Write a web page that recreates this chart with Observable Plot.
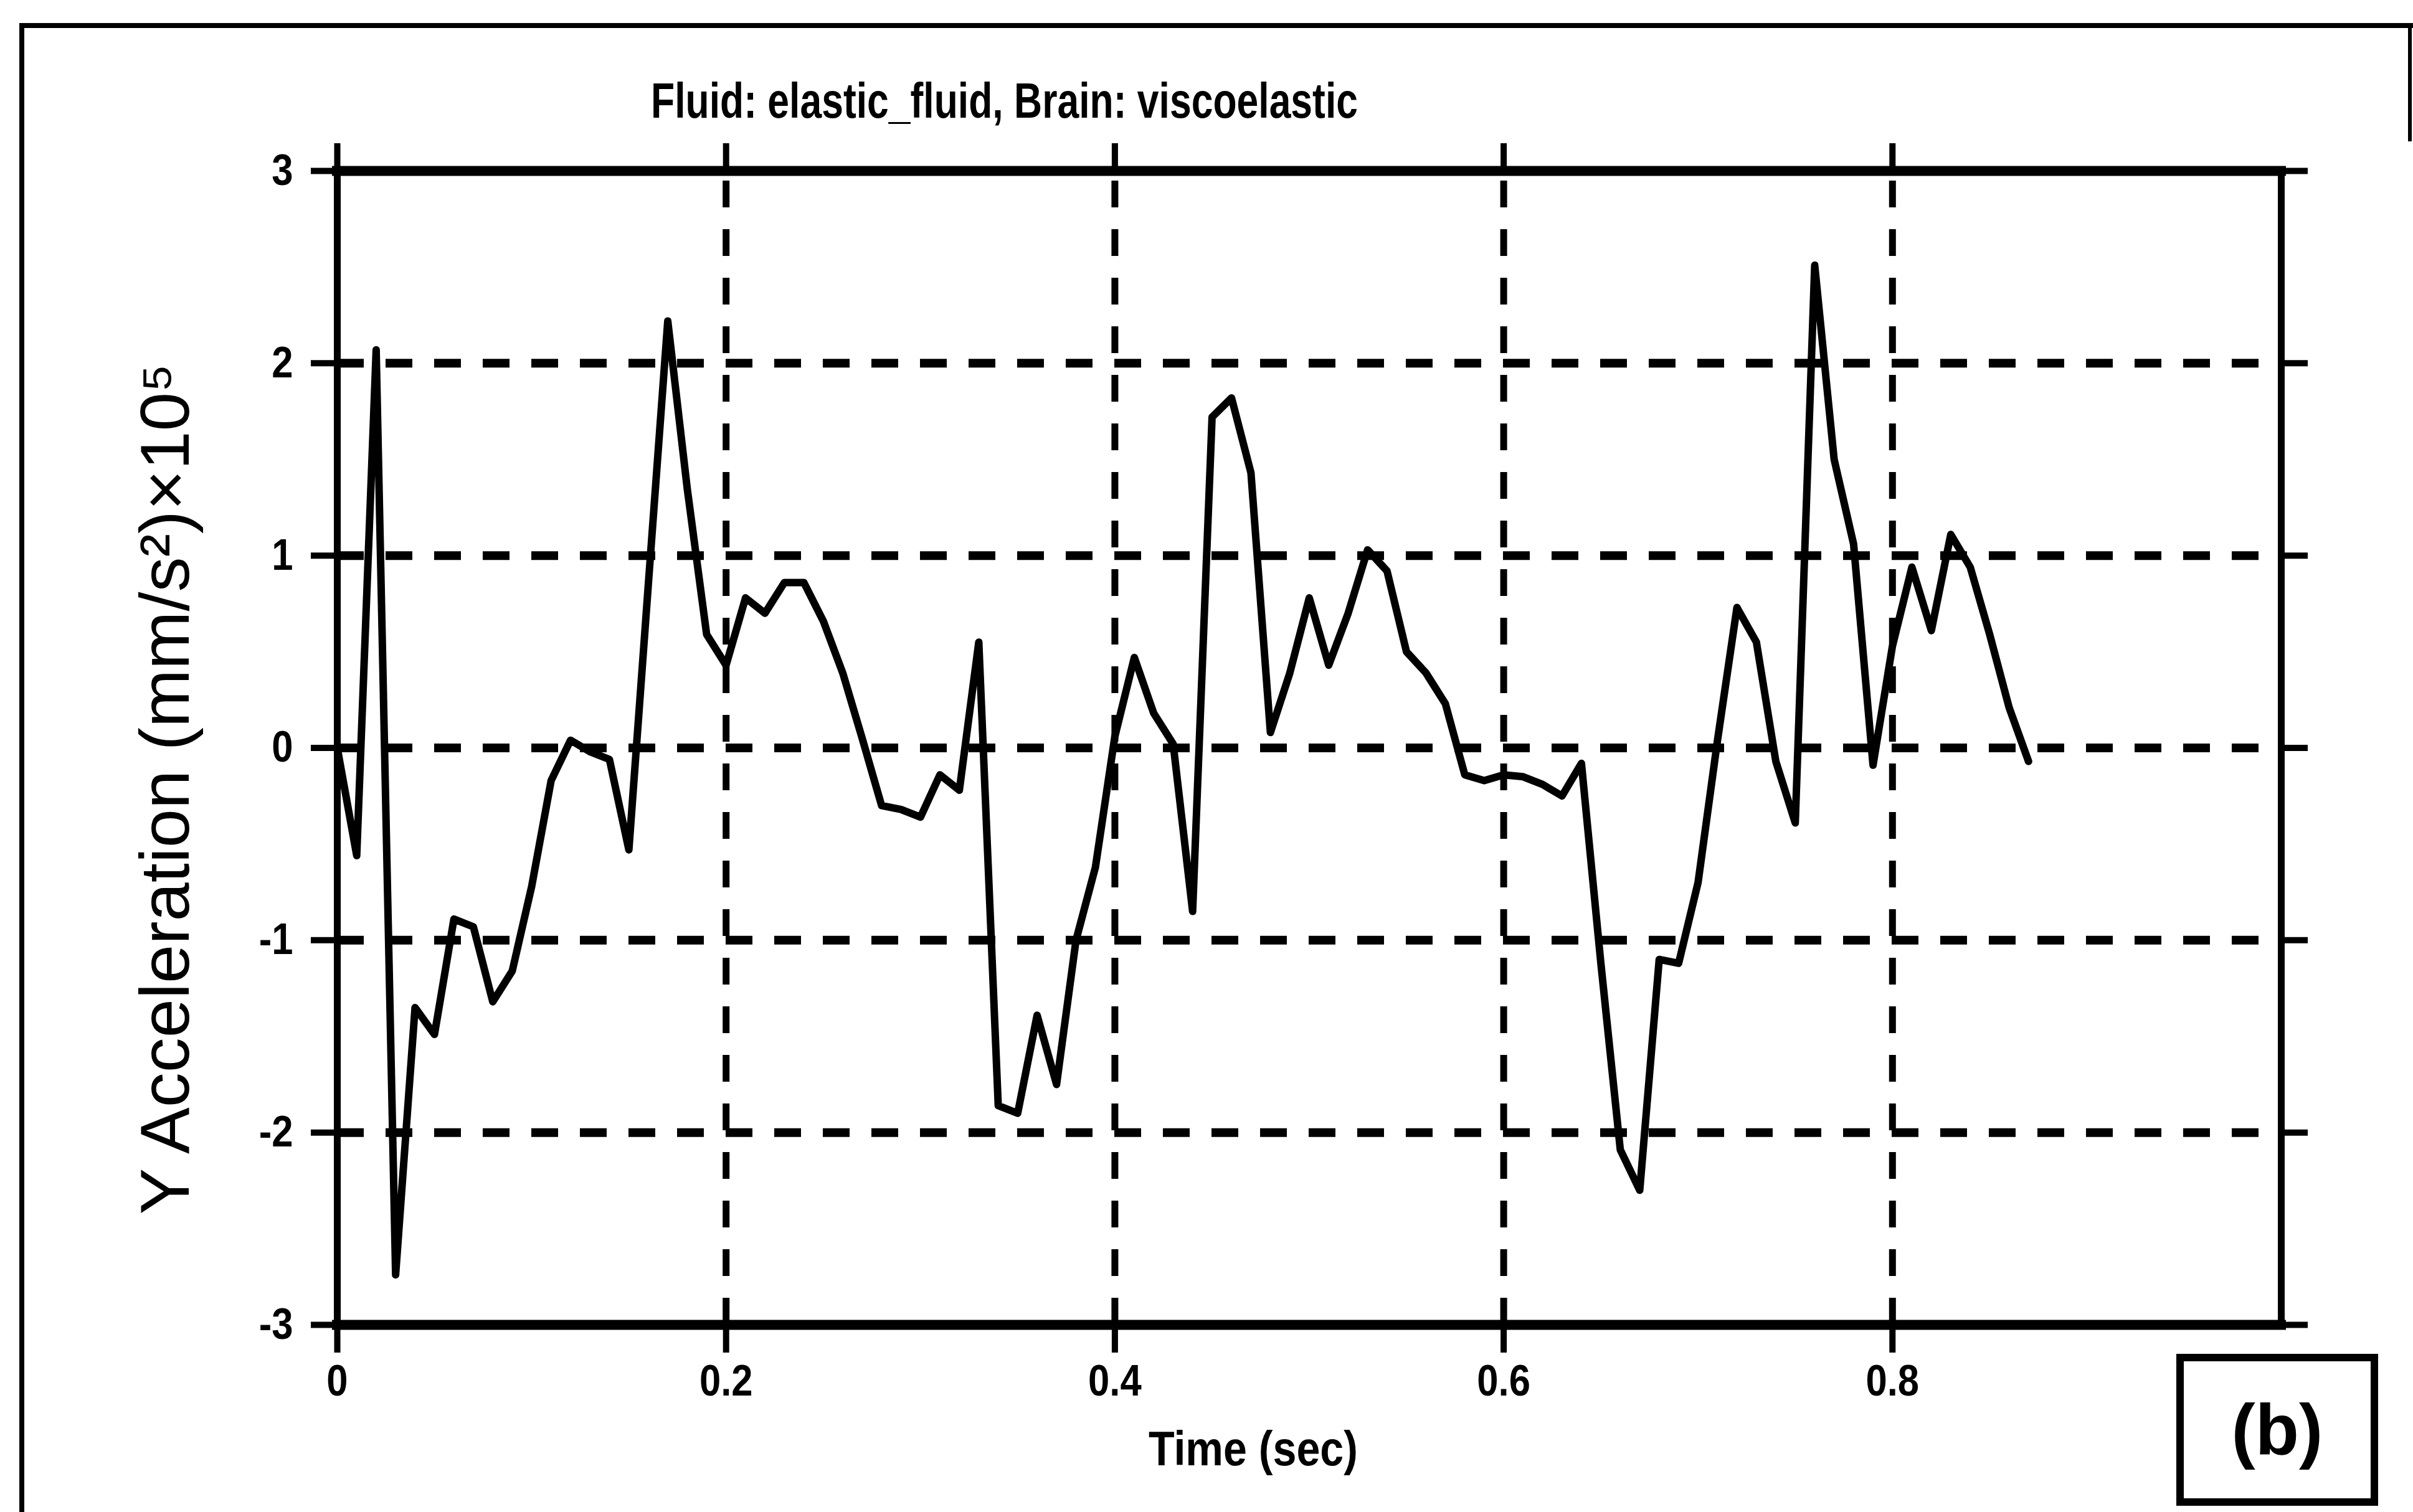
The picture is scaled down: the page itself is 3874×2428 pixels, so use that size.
<!DOCTYPE html>
<html>
<head>
<meta charset="utf-8">
<script src="https://cdn.jsdelivr.net/npm/d3@7"></script>
<script src="https://cdn.jsdelivr.net/npm/@observablehq/plot@0.6"></script>
<style>
  html, body { margin: 0; padding: 0; background: #fff; }
  #figure { position: relative; width: 3874px; height: 2428px; overflow: hidden; background: #fff; }
  #figure svg { position: absolute; left: 0; top: 0; }
  .outer-left  { position: absolute; left: 31px; top: 37px; width: 8px; height: 2400px; background: #000; }
  .outer-top   { position: absolute; left: 31px; top: 37px; width: 3843px; height: 8px; background: #000; }
  .outer-right { position: absolute; left: 3866px; top: 37px; width: 6px; height: 190px; background: #000; }
  .panel-tag {
    position: absolute; left: 3494px; top: 2174px; width: 324px; height: 244px;
    box-sizing: border-box; border: 12px solid #000;
    display: flex; align-items: center; justify-content: center;
    font: bold 115px "Liberation Sans", Arial, sans-serif; color: #000;
  }
</style>
</head>
<body>
<div id="figure">
  <div class="outer-left"></div>
  <div class="outer-top"></div>
  <div class="outer-right"></div>
  <div class="panel-tag">(b)</div>
</div>
<script>
// Time samples (s)
const time = [
  0.00, 0.01, 0.02, 0.03, 0.04, 0.05, 0.06, 0.07, 0.08, 0.09,
  0.10, 0.11, 0.12, 0.13, 0.14, 0.15, 0.16, 0.17, 0.18, 0.19,
  0.20, 0.21, 0.22, 0.23, 0.24, 0.25, 0.26, 0.27, 0.28, 0.29,
  0.30, 0.31, 0.32, 0.33, 0.34, 0.35, 0.36, 0.37, 0.38, 0.39,
  0.40, 0.41, 0.42, 0.43, 0.44, 0.45, 0.46, 0.47, 0.48, 0.49,
  0.50, 0.51, 0.52, 0.53, 0.54, 0.55, 0.56, 0.57, 0.58, 0.59,
  0.60, 0.61, 0.62, 0.63, 0.64, 0.65, 0.66, 0.67, 0.68, 0.69,
  0.70, 0.71, 0.72, 0.73, 0.74, 0.75, 0.76, 0.77, 0.78, 0.79,
  0.80, 0.81, 0.82, 0.83, 0.84, 0.85, 0.86, 0.87
];

// Y acceleration, (mm/s^2) x 10^5
const yAccel = [
   0.00, -0.56,  2.07, -2.74, -1.35, -1.49, -0.89, -0.93, -1.32, -1.16,
  -0.72, -0.17,  0.04, -0.02, -0.06, -0.53,  0.85,  2.22,  1.35,  0.59,
   0.43,  0.78,  0.70,  0.86,  0.86,  0.66,  0.39,  0.05, -0.30, -0.32,
  -0.36, -0.14, -0.22,  0.55, -1.86, -1.90, -1.39, -1.75, -1.00, -0.62,
   0.06,  0.47,  0.18,  0.02, -0.85,  1.72,  1.82,  1.43,  0.08,  0.39,
   0.78,  0.43,  0.70,  1.03,  0.92,  0.50,  0.39,  0.23, -0.14, -0.17,
  -0.14, -0.15, -0.19, -0.25, -0.08, -1.12, -2.09, -2.30, -1.10, -1.12,
  -0.70,  0.04,  0.73,  0.55, -0.07, -0.39,  2.51,  1.50,  1.06, -0.09,
   0.53,  0.94,  0.61,  1.11,  0.94,  0.59,  0.21, -0.07
];

const xTicks = [0, 0.2, 0.4, 0.6, 0.8];
const xGrid = [0.2, 0.4, 0.6, 0.8];
const yTicks = [-3, -2, -1, 0, 1, 2, 3];
const yGrid = [-2, -1, 0, 1, 2];
const xDomain = [0, 1];
const yDomain = [-3, 3];

const title = "Fluid: elastic_fluid, Brain: viscoelastic";
const xLabel = "Time (sec)";
const yLabel = "Y Acceleration (mm/s²)×10⁵";

const series = time.map((t, i) => ({t, v: yAccel[i]}));

const SANS = '"Liberation Sans", Arial, Helvetica, sans-serif';
const dash = "43,35";

const chart = Plot.plot({
  width: 3874,
  height: 2428,
  marginLeft: 541,
  marginRight: 212,
  marginTop: 274,
  marginBottom: 301,
  style: {fontFamily: SANS, fontSize: "70px", color: "#000", background: "transparent", overflow: "visible"},
  x: {domain: xDomain},
  y: {domain: yDomain},
  marks: [
    // dashed grid
    Plot.ruleY(yGrid, {stroke: "#000", strokeWidth: 14, strokeDasharray: dash}),
    Plot.ruleX(xGrid, {y1: yDomain[0], y2: yDomain[1], stroke: "#000", strokeWidth: 11, strokeDasharray: dash}),
    // box around the plotting area
    Plot.ruleY(yDomain, {stroke: "#000", strokeWidth: 16, strokeLinecap: "square"}),
    Plot.ruleX(xDomain, {stroke: "#000", strokeWidth: 11, strokeLinecap: "square"}),
    // outward ticks on all four sides, labels left and bottom
    Plot.axisX(xTicks, {anchor: "bottom", tickSize: 45, tickPadding: 19, tickFormat: String, strokeWidth: 10, label: null, fontSize: 70, fontWeight: "bold"}),
    Plot.axisX(xTicks, {anchor: "top", tickSize: 45, fill: "none", stroke: "#000", strokeWidth: 10, label: null}),
    Plot.axisY(yTicks, {anchor: "left", tickSize: 42, tickPadding: 29, tickFormat: String, strokeWidth: 10, label: null, fontSize: 70, fontWeight: "bold"}),
    Plot.axisY(yTicks, {anchor: "right", tickSize: 42, fill: "none", stroke: "#000", strokeWidth: 10, label: null}),
    // acceleration trace
    Plot.line(series, {x: "t", y: "v", stroke: "#000", strokeWidth: 12, strokeLinejoin: "round"}),
    // titles
    Plot.text([title], {className: "chart-title", frameAnchor: "top-left", dx: 1071, dy: -111, lineAnchor: "middle", textAnchor: "middle", fontSize: 80, fontWeight: "bold"}),
    Plot.text([xLabel], {className: "x-title", frameAnchor: "bottom", dx: -90, dy: 201, lineAnchor: "middle", textAnchor: "middle", fontSize: 78, fontWeight: "bold"}),
    Plot.text([yLabel], {className: "y-title", frameAnchor: "left", dx: -274, dy: 66, rotate: -90, lineAnchor: "middle", textAnchor: "middle", fontSize: 112})
  ]
});

document.getElementById("figure").prepend(chart);

// Condensed lettering for the title, x title and tick labels
const svg = d3.select(chart);
const squeeze = (sel, widthOf) => sel.each(function () {
  const natural = this.getComputedTextLength();
  this.setAttribute("textLength", widthOf(natural));
  this.setAttribute("lengthAdjust", "spacingAndGlyphs");
});
squeeze(svg.selectAll("g.chart-title text"), () => 1135);
squeeze(svg.selectAll("g.x-title text"), () => 336);
squeeze(svg.selectAll('g[aria-label="x-axis tick label"] text, g[aria-label="y-axis tick label"] text'), (w) => w * 0.88);
</script>
</body>
</html>
